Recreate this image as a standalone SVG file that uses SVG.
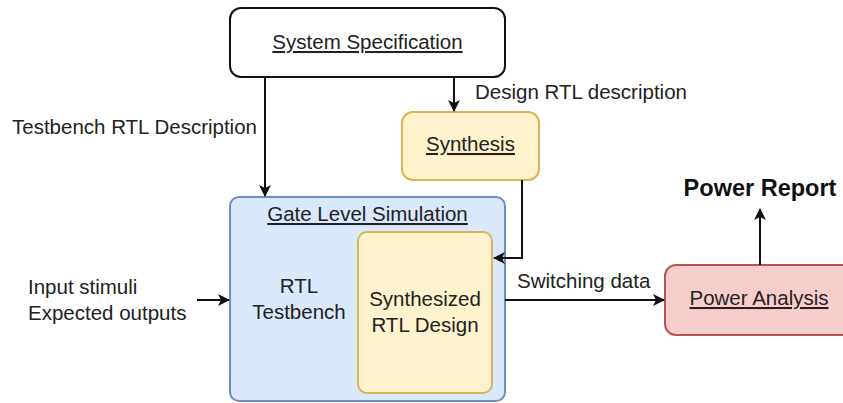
<svg xmlns="http://www.w3.org/2000/svg" width="843" height="403" viewBox="0 0 843 403">
  <defs>
    <marker id="arrow" viewBox="0 0 12 12" refX="11" refY="6" markerWidth="12" markerHeight="12" markerUnits="userSpaceOnUse" orient="auto">
      <path d="M0,0 L12,6 L0,12 L3,6 Z" fill="#111"/>
    </marker>
    <style>
      text { font-family: "Liberation Sans", Arial, sans-serif; font-size: 20.5px; fill: #222; }
      .u { text-decoration: underline; }
      .c { text-anchor: middle; }
      .b { font-weight: bold; font-size: 23.5px; fill: #111; }
      .edge { fill: none; stroke: #111; stroke-width: 2; marker-end: url(#arrow); }
    </style>
  </defs>
  <rect width="843" height="403" fill="#ffffff"/>

  <g id="system-spec">
    <rect x="230" y="8" width="275" height="69" rx="11" fill="#ffffff" stroke="#111" stroke-width="2"/>
    <text x="367.5" y="49" class="c u">System Specification</text>
  </g>

  <g id="synthesis">
    <rect x="402" y="112" width="137" height="68" rx="11" fill="#fff2cc" stroke="#d6b656" stroke-width="2"/>
    <text x="470.5" y="151" class="c u">Synthesis</text>
  </g>

  <g id="gate-level-sim">
    <rect x="230" y="197" width="275" height="204" rx="9" fill="#dae8fc" stroke="#6c8ebf" stroke-width="2"/>
    <text x="367.5" y="221" class="c u">Gate Level Simulation</text>
    <text x="299" y="293" class="c">RTL</text>
    <text x="299" y="319" class="c">Testbench</text>
  </g>

  <g id="synth-rtl-design">
    <rect x="358" y="232" width="134" height="161" rx="9" fill="#fff2cc" stroke="#d6b656" stroke-width="2"/>
    <text x="425" y="306" class="c">Synthesized</text>
    <text x="425" y="332" class="c">RTL Design</text>
  </g>

  <g id="power-analysis">
    <rect x="665" y="265" width="188" height="70" rx="11" fill="#f8cecc" stroke="#b85450" stroke-width="2"/>
    <text x="759" y="305" class="c u">Power Analysis</text>
  </g>

  <g id="connectors">
    <path class="edge" d="M265,77 L265,196"/>
    <path class="edge" d="M454,77 L454,111"/>
    <path class="edge" d="M522,180 L522,258 L494,258"/>
    <path class="edge" d="M505,300 L664,300"/>
    <path class="edge" d="M760,265 L760,209"/>
    <path class="edge" d="M197,300 L229,300"/>
  </g>

  <g id="labels">
    <text x="12" y="134">Testbench RTL Description</text>
    <text x="475" y="99">Design RTL description</text>
    <text x="517" y="288">Switching data</text>
    <text x="28" y="294">Input stimuli</text>
    <text x="28" y="320">Expected outputs</text>
    <text x="760" y="196" class="c b">Power Report</text>
  </g>
</svg>
